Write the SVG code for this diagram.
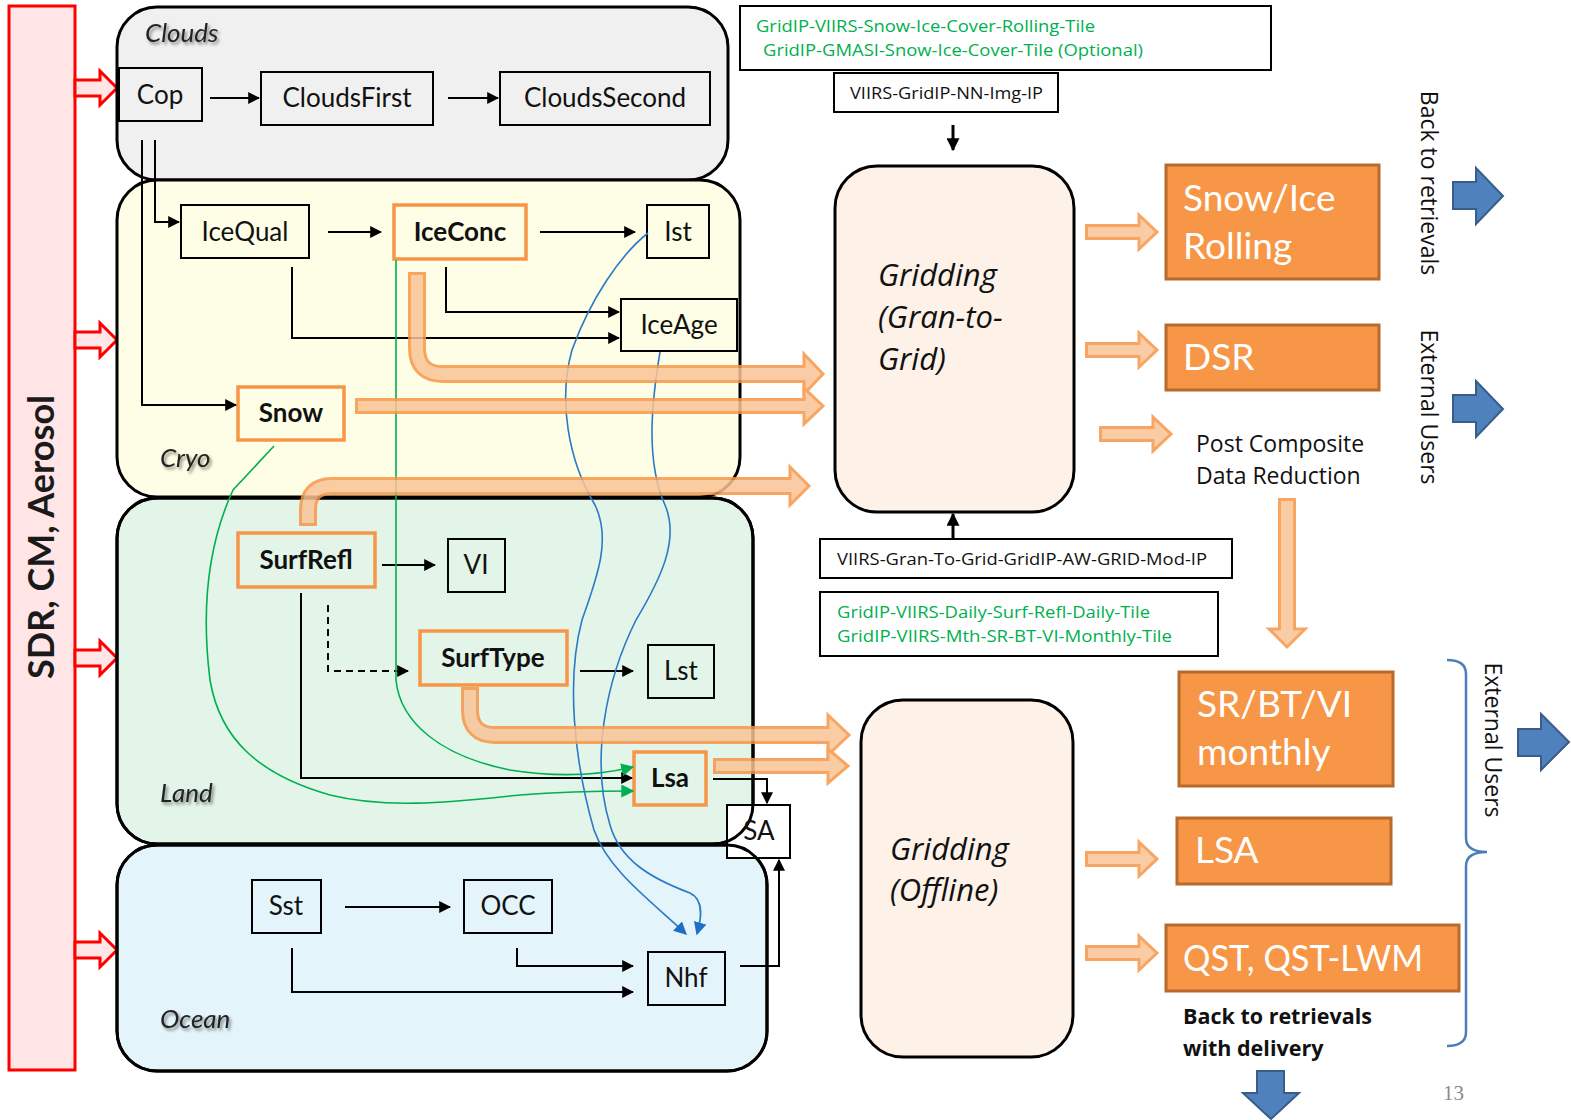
<svg xmlns="http://www.w3.org/2000/svg" width="1571" height="1120" viewBox="0 0 1571 1120">
  <defs>
    <style>
      .panel { stroke: #000; stroke-width: 3; }
      .edge { fill: none; stroke: #000; stroke-width: 3; }
      .box { fill: none; stroke: #000; stroke-width: 2; }
      .obox { fill: none; stroke: #f79646; stroke-width: 3.5; }
      .lbl { font-family: Lato, "Liberation Sans", sans-serif; font-size: 26px; fill: #111; text-anchor: middle; }
      .lblb { font-family: Lato, "Liberation Sans", sans-serif; font-size: 26px; font-weight: bold; fill: #111; text-anchor: middle; }
      .ptitle { font-family: Lato, "Liberation Sans", sans-serif; font-size: 26px; font-style: italic; fill: #222; }
      .grid { font-family: "Open Sans", "Noto Sans", sans-serif; font-size: 31px; font-style: italic; fill: #111; }
      .small { font-family: "Open Sans", "Noto Sans", sans-serif; font-size: 16px; fill: #111; }
      .green { font-family: "Open Sans", "Noto Sans", sans-serif; font-size: 16px; fill: #00b050; }
      .side { font-family: "Open Sans", "Noto Sans", sans-serif; font-size: 23px; fill: #111; }
      .prod { fill: #f79646; stroke: #b8692c; stroke-width: 3; }
      .prodt { font-family: Lato, "Liberation Sans", sans-serif; font-size: 37px; fill: #fff; }
      .ln { fill: none; stroke: #000; stroke-width: 2; marker-end: url(#ah); }
      .lnk { fill: none; stroke: #000; stroke-width: 3; marker-end: url(#ahk); }
      .gl { fill: none; stroke: #00b050; stroke-width: 1.6; marker-end: url(#ahg); }
      .bl { fill: none; stroke: #2a7ac6; stroke-width: 1.6; marker-end: url(#ahb); }
      .o-out { fill: none; stroke: #f79646; stroke-width: 18; }
      .o-in { fill: none; stroke: #f9c497; stroke-width: 12; }
      .o-head { fill: #f9c497; stroke: #f79646; stroke-width: 3; }
      .t .o-out { stroke-width: 16; }
      .t .o-in { stroke-width: 10; }
      .red { fill: #ffe5e5; stroke: #ff0000; stroke-width: 3; }
      .blue { fill: #4f81bd; stroke: #385d8a; stroke-width: 2; }
    </style>
    <marker id="ah" viewBox="0 0 10 10" refX="9" refY="5" markerWidth="12" markerHeight="12" markerUnits="userSpaceOnUse" orient="auto">
      <path d="M0,0 L10,5 L0,10 z" fill="#000"/>
    </marker>
    <marker id="ahk" viewBox="0 0 10 10" refX="9" refY="5" markerWidth="13" markerHeight="13" markerUnits="userSpaceOnUse" orient="auto">
      <path d="M0,0 L10,5 L0,10 z" fill="#000"/>
    </marker>
    <marker id="ahg" viewBox="0 0 10 10" refX="9" refY="5" markerWidth="13" markerHeight="13" markerUnits="userSpaceOnUse" orient="auto">
      <path d="M0,0 L10,5 L0,10 z" fill="#00b050"/>
    </marker>
    <marker id="ahb" viewBox="0 0 10 10" refX="9" refY="5" markerWidth="13" markerHeight="13" markerUnits="userSpaceOnUse" orient="auto">
      <path d="M0,0 L10,5 L0,10 z" fill="#1f6fc4"/>
    </marker>
    <filter id="shadow" x="-20%" y="-30%" width="140%" height="160%">
      <feDropShadow dx="2" dy="2.5" stdDeviation="1.5" flood-color="#000" flood-opacity="0.45"/>
    </filter>
  </defs>

  <rect width="1571" height="1120" fill="#fff"/>

  <!-- input bar -->
  <g id="input-bar">
    <rect class="red" x="9" y="6" width="66" height="1064" stroke-width="4"/>
    <text transform="translate(54,537) rotate(-90)" font-family="Lato, 'Liberation Sans', sans-serif" font-size="36" font-weight="bold" fill="#1a1a1a" text-anchor="middle">SDR, CM, Aerosol</text>
    <polygon class="red" points="75,80 100,80 100,71 117,88 100,105 100,96 75,96"/>
    <polygon class="red" points="75,332 100,332 100,323 117,340 100,357 100,348 75,348"/>
    <polygon class="red" points="75,650 100,650 100,641 117,658 100,675 100,666 75,666"/>
    <polygon class="red" points="75,942 100,942 100,933 117,950 100,967 100,958 75,958"/>
  </g>

  <!-- domain panels -->
  <g id="panel-clouds">
    <rect class="panel" x="117" y="7" width="611" height="173" rx="40" fill="#f0f0f0"/>
    <text class="ptitle" x="145" y="42" filter="url(#shadow)">Clouds</text>
  </g>
  <g id="panel-cryo">
    <rect class="panel" x="117" y="180" width="623" height="317" rx="40" fill="#fefde5"/>
    <text class="ptitle" x="160" y="467" filter="url(#shadow)">Cryo</text>
  </g>
  <g id="panel-land">
    <rect class="panel" x="117" y="498" width="636" height="346" rx="40" fill="#e3f4e8"/>
    <text class="ptitle" x="160" y="802" filter="url(#shadow)">Land</text>
  </g>
  <g id="panel-ocean">
    <rect class="panel" x="117" y="845" width="650" height="226" rx="40" fill="#e3f4fb"/>
    <text class="ptitle" x="160" y="1028" filter="url(#shadow)">Ocean</text>
  </g>

  <!-- algorithm nodes -->
  <g id="node-cop"><rect class="box" x="119" y="68" width="83" height="53"/><text class="lbl" x="160" y="104">Cop</text></g>
  <g id="node-cloudsfirst"><rect class="box" x="261" y="72" width="172" height="53"/><text class="lbl" x="347" y="107">CloudsFirst</text></g>
  <g id="node-cloudssecond"><rect class="box" x="500" y="72" width="210" height="53"/><text class="lbl" x="605" y="107">CloudsSecond</text></g>

  <g id="node-icequal"><rect class="box" x="181" y="205" width="128" height="53"/><text class="lbl" x="245" y="241">IceQual</text></g>
  <g id="node-iceconc"><rect class="obox" x="394" y="205" width="132" height="54"/><text class="lblb" x="460" y="241">IceConc</text></g>
  <g id="node-ist"><rect class="box" x="647" y="205" width="62" height="53"/><text class="lbl" x="678" y="241">Ist</text></g>
  <g id="node-iceage"><rect class="box" x="621" y="299" width="116" height="52"/><text class="lbl" x="679" y="334">IceAge</text></g>
  <g id="node-snow"><rect class="obox" x="238" y="387" width="106" height="53"/><text class="lblb" x="291" y="422">Snow</text></g>

  <g id="node-surfrefl"><rect class="obox" x="238" y="533" width="137" height="54"/><text class="lblb" x="306" y="569">SurfRefl</text></g>
  <g id="node-vi"><rect class="box" x="448" y="539" width="57" height="53"/><text class="lbl" x="476" y="574">VI</text></g>
  <g id="node-surftype"><rect class="obox" x="420" y="631" width="147" height="54"/><text class="lblb" x="493" y="667">SurfType</text></g>
  <g id="node-lst"><rect class="box" x="648" y="645" width="66" height="53"/><text class="lbl" x="681" y="680">Lst</text></g>
  <g id="node-lsa"><rect class="obox" x="634" y="752" width="72" height="53"/><text class="lblb" x="670" y="787">Lsa</text></g>

  <g id="node-sa"><rect x="727" y="805" width="63" height="53" fill="#fff" stroke="#000" stroke-width="2"/></g>
  <!-- panel outlines that show through the SA box -->
  <g id="panel-edges">
    <rect class="edge" x="117" y="498" width="636" height="346" rx="40"/>
    <rect class="edge" x="117" y="845" width="650" height="226" rx="40"/>
  </g>
  <g id="node-sa-label"><text class="lbl" x="759" y="840">SA</text></g>

  <g id="node-sst"><rect class="box" x="252" y="880" width="69" height="53"/><text class="lbl" x="286" y="915">Sst</text></g>
  <g id="node-occ"><rect class="box" x="464" y="880" width="88" height="53"/><text class="lbl" x="508" y="915">OCC</text></g>
  <g id="node-nhf"><rect class="box" x="648" y="952" width="77" height="53"/><text class="lbl" x="686" y="987">Nhf</text></g>

  <!-- gridding stages -->
  <g id="node-gridding-g2g">
    <rect x="835" y="166" width="239" height="346" rx="42" fill="#fdf1e8" stroke="#000" stroke-width="3"/>
    <text class="grid" x="878" y="286">Gridding</text>
    <text class="grid" x="878" y="328">(Gran-to-</text>
    <text class="grid" x="878" y="370">Grid)</text>
  </g>
  <g id="node-gridding-offline">
    <rect x="861" y="700" width="212" height="357" rx="42" fill="#fdf1e8" stroke="#000" stroke-width="3"/>
    <text class="grid" x="890" y="860">Gridding</text>
    <text class="grid" x="890" y="901">(Offline)</text>
  </g>

  <!-- gridded product boxes -->
  <g id="node-tiles-snow">
    <rect x="740" y="6" width="531" height="64" fill="#fff" stroke="#000" stroke-width="2"/>
    <text class="green" x="756" y="32" textLength="339" lengthAdjust="spacingAndGlyphs">GridIP-VIIRS-Snow-Ice-Cover-Rolling-Tile</text>
    <text class="green" x="763" y="56" textLength="380" lengthAdjust="spacingAndGlyphs">GridIP-GMASI-Snow-Ice-Cover-Tile (Optional)</text>
  </g>
  <g id="node-nn-img">
    <rect x="834" y="73" width="224" height="39" fill="#fff" stroke="#000" stroke-width="2"/>
    <text class="small" x="850" y="99" textLength="193" lengthAdjust="spacingAndGlyphs">VIIRS-GridIP-NN-Img-IP</text>
  </g>
  <g id="node-aw-grid">
    <rect x="820" y="539" width="412" height="39" fill="#fff" stroke="#000" stroke-width="2"/>
    <text class="small" x="837" y="565" textLength="370" lengthAdjust="spacingAndGlyphs">VIIRS-Gran-To-Grid-GridIP-AW-GRID-Mod-IP</text>
  </g>
  <g id="node-tiles-land">
    <rect x="820" y="592" width="398" height="64" fill="#fff" stroke="#000" stroke-width="2"/>
    <text class="green" x="837" y="618" textLength="313" lengthAdjust="spacingAndGlyphs">GridIP-VIIRS-Daily-Surf-Refl-Daily-Tile</text>
    <text class="green" x="837" y="642" textLength="335" lengthAdjust="spacingAndGlyphs">GridIP-VIIRS-Mth-SR-BT-VI-Monthly-Tile</text>
  </g>

  <!-- outputs -->
  <g id="node-snowice-rolling">
    <rect class="prod" x="1166" y="165" width="213" height="114"/>
    <text class="prodt" x="1183" y="211">Snow/Ice</text>
    <text class="prodt" x="1183" y="259">Rolling</text>
  </g>
  <g id="node-dsr">
    <rect class="prod" x="1166" y="325" width="213" height="65"/>
    <text class="prodt" x="1183" y="370">DSR</text>
  </g>
  <g id="node-post-composite">
    <text class="side" x="1196" y="452">Post Composite</text>
    <text class="side" x="1196" y="484">Data Reduction</text>
  </g>
  <g id="node-srbtvi">
    <rect class="prod" x="1179" y="672" width="214" height="114"/>
    <text class="prodt" x="1197" y="717">SR/BT/VI</text>
    <text class="prodt" x="1197" y="765">monthly</text>
  </g>
  <g id="node-lsa-out">
    <rect class="prod" x="1177" y="818" width="214" height="66"/>
    <text class="prodt" x="1195" y="863">LSA</text>
  </g>
  <g id="node-qst">
    <rect class="prod" x="1166" y="925" width="293" height="66"/>
    <text class="prodt" x="1183" y="971" textLength="240" lengthAdjust="spacingAndGlyphs">QST, QST-LWM</text>
  </g>
  <g id="node-delivery">
    <text x="1183" y="1024" font-family="'Open Sans', 'Noto Sans', sans-serif" font-size="21.5" font-weight="bold" fill="#111">Back to retrievals</text>
    <text x="1183" y="1056" font-family="'Open Sans', 'Noto Sans', sans-serif" font-size="21.5" font-weight="bold" fill="#111">with delivery</text>
  </g>

  <!-- destination labels -->
  <g id="dest-labels">
    <text class="side" font-size="24" transform="translate(1421,183) rotate(90)" text-anchor="middle">Back to retrievals</text>
    <text class="side" transform="translate(1421,407) rotate(90)" text-anchor="middle">External Users</text>
    <text class="side" transform="translate(1485,740) rotate(90)" text-anchor="middle">External Users</text>
    <path d="M1447,660 Q1466,660 1466,674 V838 Q1466,852 1487,852 Q1466,852 1466,866 V1032 Q1466,1046 1447,1046" fill="none" stroke="#4a7ebb" stroke-width="2.5"/>
    <polygon class="blue" points="1453,182 1476,182 1476,168 1503,196 1476,224 1476,209 1453,209"/>
    <polygon class="blue" points="1453,395 1476,395 1476,381 1503,409 1476,437 1476,422 1453,422"/>
    <polygon class="blue" points="1518,729 1541,729 1541,714 1569,742 1541,770 1541,756 1518,756"/>
    <polygon class="blue" points="1257,1071 1284,1071 1284,1093 1299,1093 1271,1119 1243,1093 1257,1093"/>
    <text x="1443" y="1100" font-family="'Liberation Serif', serif" font-size="21" fill="#8a8a8a">13</text>
  </g>

  <!-- connectors -->
  <g id="connectors">
    <path class="ln" d="M210,98 H259"/>
    <path class="ln" d="M448,98 H498"/>
    <path class="ln" d="M155,140 V222 H179"/>
    <path class="ln" d="M142,140 V405 H236"/>
    <path class="ln" d="M328,232 H381"/>
    <path class="ln" d="M540,232 H635"/>
    <path class="ln" d="M446,267 V312 H619"/>
    <path class="ln" d="M292,267 V338 H619"/>
    <path class="ln" d="M382,565 H435"/>
    <path class="ln" d="M328,605 V671 H408" stroke-dasharray="7,5"/>
    <path class="ln" d="M580,671 H633"/>
    <path class="ln" d="M301,593 V778 H632"/>
    <path class="ln" d="M713,779 H767 V803"/>
    <path class="ln" d="M740,966 H779 V860"/>
    <path class="ln" d="M345,907 H450"/>
    <path class="ln" d="M517,948 V966 H633"/>
    <path class="ln" d="M292,948 V992 H633"/>
    <path class="lnk" d="M953,125 V150"/>
    <path class="lnk" d="M953,538 V514"/>
    <path class="gl" d="M396,260 V680 C400,722 440,756 510,770 C560,778 600,775 633,767"/>
    <path class="gl" d="M274,446 L233,490 C210,540 200,600 210,680 C220,740 260,775 330,795 C390,810 460,801 520,795 C570,791 600,791 633,791"/>
    <path class="bl" d="M648,233 C620,255 590,300 572,350 C558,400 568,460 595,505 C612,540 596,580 582,620 C566,680 574,760 594,830 C608,870 650,900 686,934"/>
    <path class="bl" d="M660,352 C652,400 645,460 665,505 C680,540 660,580 636,620 C606,680 590,760 610,825 C620,860 650,878 690,893 C705,900 701,920 697,934"/>
  </g>

  <!-- block arrows into and out of gridding -->
  <g id="flow-arrows" opacity="0.85">
    <g>
      <path class="o-out" d="M417,272 V348 Q417,374 443,374 H806"/>
      <polygon class="o-head" points="804,354 823,374 804,394"/>
      <path class="o-in" d="M417,275 V348 Q417,374 443,374 H809"/>
    </g>
    <g class="t">
      <path class="o-out" d="M355,406 H806"/>
      <polygon class="o-head" points="804,388 823,406 804,424"/>
      <path class="o-in" d="M358,406 H809"/>
    </g>
    <g>
      <path class="o-out" d="M308,526 V510 Q308,486 332,486 H792"/>
      <polygon class="o-head" points="790,467 809,486 790,505"/>
      <path class="o-in" d="M308,523 V510 Q308,486 332,486 H795"/>
    </g>
    <g>
      <path class="o-out" d="M470,687 V710 Q470,735 495,735 H830"/>
      <polygon class="o-head" points="828,715 849,735 828,755"/>
      <path class="o-in" d="M470,690 V710 Q470,735 495,735 H833"/>
    </g>
    <g class="t">
      <path class="o-out" d="M713,766 H830"/>
      <polygon class="o-head" points="828,749 848,766 828,783"/>
      <path class="o-in" d="M716,766 H833"/>
    </g>
    <g class="t">
      <path class="o-out" d="M1085,232 H1141"/>
      <polygon class="o-head" points="1139,215 1157,232 1139,249"/>
      <path class="o-in" d="M1088,232 H1144"/>
    </g>
    <g class="t">
      <path class="o-out" d="M1085,350 H1141"/>
      <polygon class="o-head" points="1139,333 1157,350 1139,367"/>
      <path class="o-in" d="M1088,350 H1144"/>
    </g>
    <g class="t">
      <path class="o-out" d="M1099,434 H1155"/>
      <polygon class="o-head" points="1153,417 1171,434 1153,451"/>
      <path class="o-in" d="M1102,434 H1158"/>
    </g>
    <g>
      <path class="o-out" d="M1287,498 V631"/>
      <polygon class="o-head" points="1269,629 1287,647 1305,629"/>
      <path class="o-in" d="M1287,501 V634"/>
    </g>
    <g class="t">
      <path class="o-out" d="M1085,859 H1141"/>
      <polygon class="o-head" points="1139,842 1157,859 1139,876"/>
      <path class="o-in" d="M1088,859 H1144"/>
    </g>
    <g class="t">
      <path class="o-out" d="M1085,953 H1141"/>
      <polygon class="o-head" points="1139,936 1157,953 1139,970"/>
      <path class="o-in" d="M1088,953 H1144"/>
    </g>
  </g>
</svg>
